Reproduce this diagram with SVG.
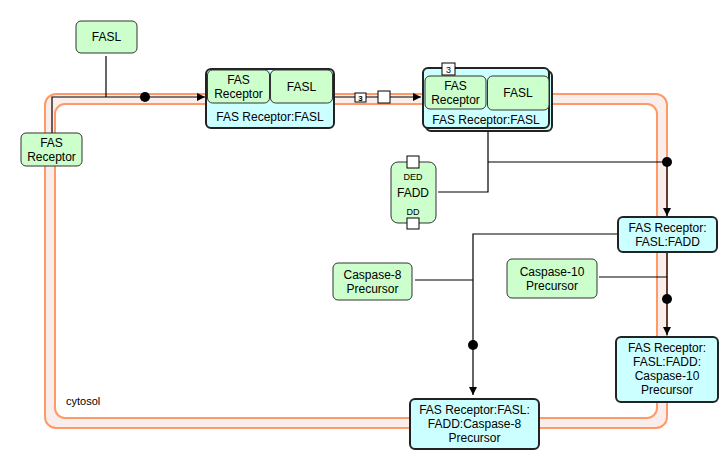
<svg xmlns="http://www.w3.org/2000/svg" width="726" height="457" viewBox="0 0 726 457">
<defs>
<style>
text{font-family:"Liberation Sans",Arial,sans-serif;font-size:12px;fill:#000;text-anchor:middle}
.prot{fill:#ccffcc;stroke:#333;stroke-width:1}
.cplx{fill:#ccffff;stroke:#222;stroke-width:2}
.ln{fill:none;stroke:#000;stroke-width:1.2}
.dot{fill:#000}
.sq{fill:#fff;stroke:#000;stroke-width:1}
</style>
<marker id="arr" viewBox="0 0 10 10" refX="10" refY="5" markerWidth="8" markerHeight="8" orient="auto" markerUnits="userSpaceOnUse">
<path d="M0,0 L10,5 L0,10 Z" fill="#000"/>
</marker>
</defs>
<rect width="726" height="457" fill="#fff"/>
<g id="membrane">
<rect x="45" y="94" width="622" height="334" rx="11" fill="#faeeec" stroke="#ff9966" stroke-width="2"/>
<rect x="55" y="104" width="602" height="314" rx="10" fill="#fff" stroke="#ff9966" stroke-width="2"/>
<text x="66" y="405" style="text-anchor:start;font-size:11px">cytosol</text>
</g>
<g id="connectors">
<path class="ln" d="M106,56 V97"/>
<path class="ln" d="M52,133 V97 H205" marker-end="url(#arr)"/>
<circle class="dot" cx="145" cy="97" r="5"/>
<path class="ln" d="M334,97 H421" marker-end="url(#arr)"/>
<rect class="sq" x="355" y="93" width="11" height="9"/>
<text x="360.5" y="101" style="font-size:8px;font-weight:bold">3</text>
<rect class="sq" x="378" y="91" width="12" height="12"/>
<path class="ln" d="M488,131 V192 H438"/>
<path class="ln" d="M488,162 H667 V216" marker-end="url(#arr)"/>
<circle class="dot" cx="667" cy="162" r="5"/>
<path class="ln" d="M618,234 H473 V395" marker-end="url(#arr)"/>
<path class="ln" d="M415,280 H473"/>
<circle class="dot" cx="473" cy="345" r="5"/>
<path class="ln" d="M667,252 V335" marker-end="url(#arr)"/>
<path class="ln" d="M599,277 H667"/>
<circle class="dot" cx="667" cy="299" r="5"/>
</g>
<g id="fasl">
<rect class="prot" x="76" y="21" width="61" height="32" rx="5"/>
<text x="106.5" y="41">FASL</text>
</g>
<g id="fas-receptor">
<rect class="prot" x="21" y="133" width="61" height="33" rx="5"/>
<text x="51.5" y="147">FAS</text>
<text x="51.5" y="161">Receptor</text>
</g>
<g id="complex1">
<rect class="cplx" x="206" y="69" width="128" height="59" rx="5"/>
<rect class="prot" x="207.5" y="70" width="62" height="33" rx="5"/>
<text x="238.5" y="84">FAS</text>
<text x="238.5" y="98">Receptor</text>
<rect class="prot" x="270.5" y="70" width="62" height="33" rx="5"/>
<text x="301.5" y="91">FASL</text>
<text x="270" y="121">FAS Receptor:FASL</text>
</g>
<g id="complex2">
<rect class="cplx" x="426" y="71" width="126" height="60" rx="5"/>
<rect class="cplx" x="423" y="68" width="126" height="60" rx="5"/>
<rect class="prot" x="425" y="76" width="61" height="33" rx="5"/>
<text x="455.5" y="90">FAS</text>
<text x="455.5" y="104">Receptor</text>
<rect class="prot" x="487.5" y="76" width="61.5" height="34" rx="5"/>
<text x="518" y="97">FASL</text>
<text x="486" y="124">FAS Receptor:FASL</text>
<rect class="sq" x="442" y="63" width="13" height="12"/>
<text x="448.5" y="72.5" style="font-size:9px">3</text>
</g>
<g id="fadd">
<rect class="prot" x="391" y="162" width="45" height="61" rx="7"/>
<text x="413" y="180" style="font-size:9px">DED</text>
<text x="413" y="197">FADD</text>
<text x="413" y="215" style="font-size:9px">DD</text>
<rect class="sq" x="407" y="156" width="12" height="12"/>
<rect class="sq" x="407" y="218" width="12" height="11"/>
</g>
<g id="complex3">
<rect class="cplx" x="618" y="217" width="99" height="35" rx="5"/>
<text x="667.5" y="232">FAS Receptor:</text>
<text x="667.5" y="246">FASL:FADD</text>
</g>
<g id="caspase8">
<rect class="prot" x="333" y="263" width="79" height="37" rx="5"/>
<text x="372.5" y="279">Caspase-8</text>
<text x="372.5" y="293">Precursor</text>
</g>
<g id="caspase10">
<rect class="prot" x="507" y="259" width="90" height="39" rx="5"/>
<text x="552" y="276">Caspase-10</text>
<text x="552" y="290">Precursor</text>
</g>
<g id="complex4">
<rect class="cplx" x="616" y="337" width="102" height="65" rx="5"/>
<text x="667" y="352">FAS Receptor:</text>
<text x="667" y="366">FASL:FADD:</text>
<text x="667" y="380">Caspase-10</text>
<text x="667" y="394">Precursor</text>
</g>
<g id="complex5">
<rect class="cplx" x="410" y="399" width="129" height="50" rx="5"/>
<text x="474.5" y="414">FAS Receptor:FASL:</text>
<text x="474.5" y="428">FADD:Caspase-8</text>
<text x="474.5" y="442">Precursor</text>
</g>
</svg>
